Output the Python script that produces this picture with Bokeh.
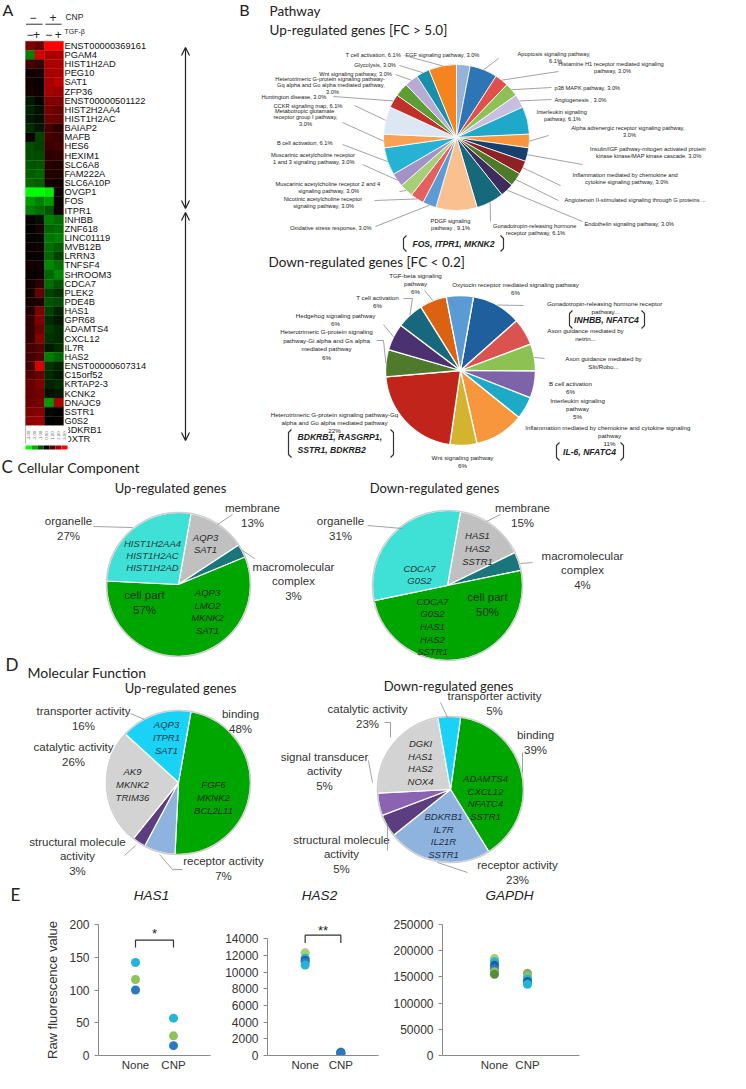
import math
from bokeh.plotting import figure
from bokeh.models import Range1d, FactorRange, FixedTicker, Arrow, OpenHead, BasicTickFormatter
from bokeh.layouts import column, row
from bokeh.core.properties import value
from bokeh.embed import file_html
from bokeh.resources import INLINE

# ======================= DATA =======================
hm_genes = ["ENST00000369161", "PGAM4", "HIST1H2AD", "PEG10", "SAT1", "ZFP36", "ENST00000501122",
            "HIST2H2AA4", "HIST1H2AC", "BAIAP2", "MAFB", "HES6", "HEXIM1", "SLC6A8", "FAM222A", "SLC6A10P",
            "OVGP1", "FOS", "ITPR1", "INHBB", "ZNF618", "LINC01119", "MVB12B", "LRRN3", "TNFSF4", "SHROOM3",
            "CDCA7", "PLEK2", "PDE4B", "HAS1", "GPR68", "ADAMTS4", "CXCL12", "IL7R", "HAS2", "ENST00000607314",
            "C15orf52", "KRTAP2-3", "KCNK2", "DNAJC9", "SSTR1", "G0S2", "BDKRB1", "OXTR"]
hm_ctrl = [1.5, -1.5, 0.8, 0.2, 0.2, 0.3, -0.3, -0.4, -0.3, -0.5, 0.1, -0.9, -0.9, -1.0, -1.1, -1.2, -3.0, -1.8, -1.5,
           0.1, 0.0, 0.1, 0.1, 0.1, 0.2, 0.1, 0.2, 0.2, 0.3, 0.4, 0.6, 0.6, 0.6, 0.8, 0.8, 0.8, 1.0, 1.2, 1.2, 1.3, 1.5, 1.7, 1.8, 2.0]
hm_tgf = [1.2, 2.5, 0.6, 0.3, 0.1, 0.2, 0.1, -0.2, -0.2, -0.3, -0.8, -0.8, -0.9, -1.0, -1.2, -1.1, -3.0, -1.5, -1.3,
          -0.2, 0.3, -0.1, 0.2, 0.1, 0.2, 0.2, 0.5, 1.2, 0.4, 1.5, 1.5, 1.3, 1.6, 1.0, 1.0, 2.5, 1.2, 1.5, 1.3, 1.4, 1.6, 1.8, 2.0, 2.0]
hm_cnp = [3.0, 2.0, 2.0, 2.0, 2.0, 2.0, 1.5, 1.4, 1.3, 0.8, 0.8, 0.7, 0.5, 0.5, 0.4, 0.3, -2.8, -1.8, -1.0,
          -1.5, -1.2, -1.4, -1.3, -1.2, -1.6, -1.2, -1.3, -0.8, -1.0, -0.8, -0.5, -0.7, -0.6, -0.3, -1.5, -0.6, -0.5, -0.4, -0.2, -1.8, -0.1, 0.0, 0.0, 0.0]
hm_cnp_tgf = [3.0, 2.0, 2.0, 2.0, 2.2, 1.8, 1.5, 1.2, 1.2, 0.5, 0.7, 0.8, 0.6, 0.4, 0.4, 0.2, 0.2, 0.1, 0.2,
              -1.3, -1.3, -1.5, -1.1, -0.8, -1.3, -1.6, -1.0, -0.6, -0.9, -0.4, -0.3, -0.5, -0.5, -0.5, -1.2, -0.4, -0.3, -0.5, -0.3, 2.0, 0.0, 0.1, 0.0, 0.0]
hm_cnp_signs = ["\u2212", "+"]
hm_tgf_signs = ["\u2212", "+", "\u2212", "+"]
cb_values = [-3, -2, -1, 0, 1, 2, 3]

up_pw_names = ["FGF signaling pathway", "Apoptosis signaling pathway", "Histamine H1 receptor mediated signaling pathway",
               "p38 MAPK pathway", "Angiogenesis", "Interleukin signaling pathway", "Alpha adrenergic receptor signaling pathway",
               "Insulin/IGF pathway-mitogen activated protein kinase kinase/MAP kinase cascade",
               "Inflammation mediated by chemokine and cytokine signaling pathway",
               "Angiotensin II-stimulated signaling through G proteins", "Endothelin signaling pathway",
               "Gonadotropin-releasing hormone receptor pathway", "PDGF signaling pathway", "Oxidative stress response",
               "Nicotinic acetylcholine receptor signaling pathway", "Muscarinic acetylcholine receptor 2 and 4 signaling pathway",
               "Muscarinic acetylcholine receptor 1 and 3 signaling pathway", "B cell activation",
               "Metabotropic glutamate receptor group I pathway", "CCKR signaling map", "Huntington disease",
               "Heterotrimeric G-protein signaling pathway-Gq alpha and Go alpha mediated pathway",
               "Wnt signaling pathway", "Glycolysis", "T cell activation"]
up_pw_pct = [3.0, 6.1, 3.0, 3.0, 3.0, 6.1, 3.0, 3.0, 3.0, 3.0, 3.0, 6.1, 9.1, 3.0, 3.0, 3.0, 3.0, 6.1, 3.0, 6.1, 3.0, 3.0, 3.0, 3.0, 6.1]

down_pw_names = ["Gonadotropin-releasing hormone receptor pathway", "Axon guidance mediated by netrin",
                 "Axon guidance mediated by Slit/Robo", "B cell activation", "Interleukin signaling pathway",
                 "Inflammation mediated by chemokine and cytokine signaling pathway", "Wnt signaling pathway",
                 "Heterotrimeric G-protein signaling pathway-Gq alpha and Go alpha mediated pathway",
                 "Heterotrimeric G-protein signaling pathway-Gi alpha and Gs alpha mediated pathway",
                 "Hedgehog signaling pathway", "T cell activation", "TGF-beta signaling pathway",
                 "Oxytocin receptor mediated signaling pathway"]
down_pw_pct = [11, 6, 6, 6, 5, 11, 6, 22, 6, 6, 6, 6, 6]

cc_names = ["membrane", "macromolecular complex", "cell part", "organelle"]
cc_up_pct = [13, 3, 57, 27]
cc_down_pct = [15, 4, 50, 31]

mf_up_names = ["binding", "receptor activity", "structural molecule activity", "catalytic activity", "transporter activity"]
mf_up_pct = [48, 7, 3, 26, 16]
mf_down_names = ["binding", "receptor activity", "structural molecule activity", "signal transducer activity",
                 "catalytic activity", "transporter activity"]
mf_down_pct = [39, 23, 5, 5, 23, 5]

e_groups = ["None", "CNP"]
has1_none = [142, 116, 100]
has1_cnp = [57, 30, 15]
has2_none = [12300, 11650, 11400, 11200, 10850]
has2_cnp = [420, 380, 330, 290, 250]
gapdh_none = [185000, 179000, 172000, 166000, 160000, 155000]
gapdh_cnp = [157000, 151000, 146000, 141000, 136000]

# ======================= STYLE =======================
up_colors = ["#95B3D7", "#2E75B6", "#E0504A", "#8DC153", "#C9BEDF", "#1FA8C9", "#F7963C", "#17406D", "#8E2222",
             "#4D7A29", "#3E2C5E", "#16697A", "#FBC08F", "#5E9BD6", "#E4605E", "#A6CF78", "#A491C8", "#26B3D3",
             "#F9A055", "#DDE7F3", "#C0312B", "#5E9C34", "#B9A9D5", "#1A8FAB", "#F5841F"]
down_colors = ["#1F5F9E", "#DA5350", "#8DC153", "#7F63A8", "#1CAAC6", "#F7963C", "#D4B330", "#C0241A",
               "#4F7A2C", "#4B316F", "#17687C", "#DB6210", "#5B9BD5"]
cc_colors = ["#C0C0C0", "#1B767C", "#00A600", "#3FE0D6"]
mf_up_colors = ["#00A600", "#8DB3DE", "#5C3E80", "#D3D3D3", "#1AD2F6"]
mf_down_colors = ["#00A600", "#8DB3DE", "#5C3E80", "#8A63B3", "#D3D3D3", "#1AD2F6"]
C_CYAN, C_GREEN, C_BLUE, C_DBLUE, C_LGREEN, C_DGREEN, C_GRAYG = "#22B5D8", "#8DC35A", "#2B78C2", "#1F5C99", "#A6CF6E", "#5A8A3A", "#8FA37A"

SANS = value("Liberation Sans")
LATO = value("Lato")

hm_pal = []
for i in range(256):
    t = i / 255.0 * 2 - 1
    if t < 0:
        hm_pal.append("#%02x%02x%02x" % (0, int(round(-t * 255)), 0))
    else:
        hm_pal.append("#%02x%02x%02x" % (int(round(t * 255)), 0, 0))


def hm_color(v):
    return hm_pal[int(round((min(max(v, -3), 3) + 3) / 6.0 * 255))]


# ======================= MAIN CANVAS (panels A-D) =======================
W = 730
H_MAIN = 906
p = figure(width=W, height=H_MAIN, x_range=Range1d(8, 8 + W), y_range=Range1d(-(8 + H_MAIN), -8),
           x_axis_location=None, y_axis_location=None, min_border=0, toolbar_location=None,
           output_backend="svg", outline_line_color=None)
p.xgrid.visible = False
p.ygrid.visible = False


def T(x, y, s, size, align="center", font=SANS, style="normal", color="#222222", lh=1.2, angle=0.0, baseline="middle"):
    p.text(x=[x], y=[-y], text=[s], text_font=font, text_font_size="%.1fpx" % size, text_align=align,
           text_baseline=baseline, text_font_style=style, text_color=color, text_line_height=lh, angle=angle)


def pie(cx, cy, r, pcts, colors, start=0.0, lc="white", lw=1.0):
    tot = float(sum(pcts))
    acc = 0.0
    s, e, mids = [], [], []
    for v in pcts:
        a0 = start + acc / tot * 360.0
        acc += v
        a1 = start + acc / tot * 360.0
        s.append(math.radians(90 - a0))
        e.append(math.radians(90 - a1))
        mids.append((a0 + a1) / 2.0)
    n = len(pcts)
    p.wedge(x=[cx] * n, y=[-cy] * n, radius=r, start_angle=s, end_angle=e, direction="clock",
            fill_color=colors, line_color=lc, line_width=lw)
    return mids


def edge(cx, cy, r, deg):
    a = math.radians(deg)
    return (cx + r * math.sin(a), cy - r * math.cos(a))


leaders = []


def lead(pts):
    leaders.append(pts)


def bracket(x0, x1, y0, y1, lw=1.2):
    d = 3
    xs = [[x0 + d, x0, x0, x0 + d], [x1 - d, x1, x1, x1 - d]]
    ys = [[-y0, -(y0 + d), -(y1 - d), -y1], [-y0, -(y0 + d), -(y1 - d), -y1]]
    p.multi_line(xs=xs, ys=ys, line_color="#333333", line_width=lw)


# ---------- Panel A: heatmap ----------
HM_LEFT, HM_COLW, HM_ROW0, HM_ROWH = 33.0, 9.5, 53.3, 9.15
sx = -0.5 - (HM_LEFT - 8) / HM_COLW
p.extra_x_ranges = {"hmx": Range1d(start=sx, end=sx + W / HM_COLW)}
top_r = (8 - HM_ROW0) / HM_ROWH
p.extra_y_ranges = {"hmy": Range1d(start=top_r + H_MAIN / HM_ROWH, end=top_r)}

hm_cols = [hm_ctrl, hm_tgf, hm_cnp, hm_cnp_tgf]
hx, hy, hc = [], [], []
for c, col in enumerate(hm_cols):
    for r_, v in enumerate(col):
        hx.append(c)
        hy.append(r_)
        hc.append(hm_color(v))
p.rect(x=hx, y=hy, width=1, height=1, x_range_name="hmx", y_range_name="hmy", fill_color=hc, line_color=hc, line_width=0.3)
p.text(x=[3.6] * len(hm_genes), y=list(range(len(hm_genes))), text=hm_genes, x_range_name="hmx", y_range_name="hmy",
       text_font=SANS, text_font_size="9.3px", text_align="left", text_baseline="middle", text_color="#111111")
p.text(x=[0.3, 2.4], y=[-3.1, -3.1], text=hm_cnp_signs, x_range_name="hmx", y_range_name="hmy",
       text_font=SANS, text_font_size="12px", text_align="center", text_baseline="middle", text_color="#222222")
p.multi_line(xs=[[-0.45, 1.3], [1.6, 3.3]], ys=[[-2.36, -2.36], [-2.36, -2.36]], x_range_name="hmx", y_range_name="hmy",
             line_color="#333333", line_width=1)
p.text(x=[3.7], y=[-3.1], text=["CNP"], x_range_name="hmx", y_range_name="hmy",
       text_font=SANS, text_font_size="8.5px", text_align="left", text_baseline="middle", text_color="#222222")
p.text(x=[0.0, 0.65, 1.95, 2.95], y=[-1.25] * 4, text=hm_tgf_signs, x_range_name="hmx", y_range_name="hmy",
       text_font=SANS, text_font_size="12px", text_align="center", text_baseline="middle", text_color="#222222")
p.text(x=[3.6], y=[-1.6], text=["TGF-\u03b2"], x_range_name="hmx", y_range_name="hmy",
       text_font=SANS, text_font_size="7px", text_align="left", text_baseline="middle", text_color="#222222")
p.rect(x=[1.75], y=[42.55], width=4.5, height=2.1, x_range_name="hmx", y_range_name="hmy",
       fill_color="white", line_color=None)
cb_w = 6.0 / HM_COLW
cb_x = [-0.5 + (i + 0.5) * cb_w for i in range(len(cb_values))]
p.text(x=cb_x, y=[42.6] * len(cb_values), text=["%.2f" % v for v in cb_values], x_range_name="hmx", y_range_name="hmy",
       text_font=SANS, text_font_size="4.2px", text_align="center", text_baseline="middle", text_color="#666666",
       angle=math.pi / 2)
p.rect(x=cb_x, y=[43.9] * len(cb_values), width=cb_w, height=0.45, x_range_name="hmx", y_range_name="hmy",
       fill_color=[hm_color(v) for v in cb_values], line_color=None)

for y0, y1 in [(55, 216), (220, 448)]:
    p.add_layout(Arrow(start=OpenHead(size=8, line_width=1.2, line_color="#222222"),
                       end=OpenHead(size=8, line_width=1.2, line_color="#222222"),
                       x_start=193, y_start=-y0, x_end=193, y_end=-y1, line_width=1.2, line_color="#222222"))

# ---------- panel letters and headings ----------
T(10, 17, "A", 16, align="left", font=LATO)
T(252, 17, "B", 16, font=LATO)
T(277, 18, "Pathway", 13.5, align="left", font=LATO)
T(277, 37, "Up-regulated genes [FC > 5.0]", 13.5, align="left", font=LATO)
T(276, 269, "Down-regulated genes [FC < 0.2]", 13.5, align="left", font=LATO)
T(9, 474, "C", 17, align="left", font=LATO)
T(25, 475, "Cellular Component", 14, align="left", font=LATO)
T(178, 495, "Up-regulated genes", 13, font=LATO)
T(442, 495, "Down-regulated genes", 13, font=LATO)
T(13, 672, "D", 17, align="left", font=LATO)
T(35, 680, "Molecular Function", 14, align="left", font=LATO)
T(188, 695, "Up-regulated genes", 13, font=LATO)
T(456, 693, "Down-regulated genes", 13, font=LATO)
T(18, 902, "E", 17, align="left", font=LATO)
T(159, 903, "HAS1", 13.5, style="italic")
T(327, 903, "HAS2", 13.5, style="italic")
T(517, 903, "GAPDH", 13.5, style="italic")

# ---------- Panel B: up-regulated pathway pie ----------
UCX, UCY, UR = 464, 145, 73
up_mid = pie(UCX, UCY, UR, up_pw_pct, up_colors, start=0.0, lw=0.8)
up_lbl = [
    ("FGF signaling  pathway, {p}%", 413, 62, "left", None),
    ("Apoptosis  signaling  pathway,\n{p}%", 563, 65, "center", (506, 66)),
    ("Histamine  H1 receptor mediated  signaling\npathway, {p}%", 620, 75, "center", (566, 79)),
    ("p38 MAPK  pathway, {p}%", 562, 95, "left", (559, 95)),
    ("Angiogenesis  , {p}%", 562, 107, "left", (559, 107)),
    ("Interleukin  signaling\npathway, {p}%", 570, 123, "center", None),
    ("Alpha adrenergic  receptor signaling  pathway,\n{p}%", 637, 139, "center", (556, 143)),
    ("Insulin/IGF  pathway-mitogen  activated protein\nkinase kinase/MAP  kinase cascade, {p}%", 657, 160, "center", (590, 172)),
    ("Inflammation  mediated  by chemokine  and\ncytokine signaling  pathway, {p}%", 635, 186, "center", (568, 193)),
    ("Angiotensin  II-stimulated  signaling  through  G proteins ...", 572, 207, "left", (566, 208)),
    ("Endothelin  signaling  pathway, {p}%", 592, 231, "left", (590, 229)),
    ("Gonadotropin-releasing  hormone\nreceptor pathway, {p}%", 543, 237, "center", (498, 229)),
    ("PDGF signaling\npathway , {p}%", 458, 232, "center", None),
    ("Oxidative stress response, {p}%", 379, 235, "right", (383, 234)),
    ("Nicotinic  acetylcholine  receptor\nsignaling  pathway, {p}%", 332, 210, "center", (382, 208)),
    ("Muscarinic  acetylcholine  receptor 2 and 4\nsignaling  pathway, {p}%", 337, 195, "center", (407, 199)),
    ("Muscarinic  acetylcholine  receptor\n1 and 3 signaling  pathway, {p}%", 322, 166, "center", (370, 172)),
    ("B cell activation,  {p}%", 313, 150, "center", (350, 152)),
    ("Metabotropic  glutamate\nreceptor group I pathway,\n{p}%", 313, 125, "center", (350, 130)),
    ("CCKR signaling  map,  {p}%", 317, 113, "center", (362, 113)),
    ("Huntington  disease, {p}%", 269, 104, "left", (341, 104)),
    ("Heterotrimeric  G-protein  signaling  pathway-\nGq alpha and Go alpha  mediated  pathway,\n{p}%", 340, 93, "center", None),
    ("Wnt signaling  pathway, {p}%", 401, 81, "right", (403, 82)),
    ("Glycolysis,  {p}%", 405, 72, "right", (407, 73)),
    ("T cell activation,  {p}%", 410, 62, "right", (412, 63)),
]
for i, (tpl, lx, ly, al, le) in enumerate(up_lbl):
    T(lx, ly, tpl.replace("{p}", "%.1f" % up_pw_pct[i]), 5.7, align=al, color="#1a1a1a", lh=1.15)
    if le is not None:
        ex, ey = edge(UCX, UCY, UR, up_mid[i])
        lead([(ex, ey), le])
bracket(411, 511, 243, 259)
T(461, 251, "FOS, ITPR1, MKNK2", 8.6, style="bold italic", color="#222222")

# ---------- Panel B: down-regulated pathway pie ----------
DCX, DCY, DR = 468, 378, 75
dn_mid = pie(DCX, DCY, DR, down_pw_pct, down_colors, start=10.0, lw=1.3)
dn_lbl = [
    ("Gonadotropin-releasing  hormone receptor\npathway...", 613, 315, "center", [(531, 313)]),
    ("Axon guidance mediated by\nnetrin...", 593, 342, "center", None),
    ("Axon guidance mediated by\nSlit/Robo...", 611, 370, "center", [(552, 366)]),
    ("B cell activation\n{p}%", 578, 395, "center", None),
    ("Interleukin signaling\npathway\n{p}%", 585, 416, "center", None),
    ("Inflammation  mediated by chemokine  and cytokine signaling\npathway\n{p}%", 617, 443, "center", None),
    ("Wnt signaling pathway\n{p}%", 470, 469, "center", None),
    ("Heterotrimeric G-protein signaling pathway-Gq\nalpha and Go alpha mediated pathway\n{p}%", 342, 430, "center", None),
    ("Heterotrimeric G-protein signaling\npathway-Gi alpha and Gs alpha\nmediated pathway\n{p}%", 334, 352, "center", [(391, 348), (384, 348)]),
    ("Hedgehog signaling pathway\n{p}%", 343, 327, "center", [(391, 332)]),
    ("T cell activation\n{p}%", 385, 309, "center", [(420, 306), (411, 306)]),
    ("TGF-beta signaling\npathway\n{p}%", 423, 291, "center", [(432, 298)]),
    ("Oxytocin receptor mediated signaling pathway\n{p}%", 523, 296, "center", None),
]
for i, (tpl, lx, ly, al, le) in enumerate(dn_lbl):
    T(lx, ly, tpl.replace("{p}", "%d" % down_pw_pct[i]), 6.2, align=al, color="#1a1a1a", lh=1.2)
    if le is not None:
        ex, ey = edge(DCX, DCY, DR, dn_mid[i])
        lead([(ex, ey)] + le)
bracket(577, 652, 318, 336)
T(614, 327, "INHBB, NFATC4", 8.6, style="bold italic")
bracket(564, 631, 450, 468)
T(597, 459, "IL-6, NFATC4", 8.6, style="bold italic")
bracket(296, 401, 437, 465)
T(305, 451, "BDKRB1, RASGRP1,\nSSTR1, BDKRB2", 8.6, align="left", style="bold italic", lh=1.25)

# ---------- Panel C ----------
LBL = 11.5
GEN = 9.5
pie(186, 592, 72, cc_up_pct, cc_colors, start=10.0, lw=1.2)
p.circle(x=[186], y=[-592], radius=72, fill_color=None, line_color="#cfcfcf", line_width=1.6)
T(76, 536, "organelle\n%d%%" % cc_up_pct[3], LBL, color="#333333")
T(260, 523, "membrane\n%d%%" % cc_up_pct[0], LBL, color="#333333")
T(301, 589, "macromolecular\ncomplex\n%d%%" % cc_up_pct[1], LBL, color="#333333")
T(152, 610, "cell part\n%d%%" % cc_up_pct[2], LBL, color="#1d2e1d")
T(160, 563, "HIST1H2AA4\nHIST1H2AC\nHIST1H2AD", GEN, style="italic", color="#1f3a3a", lh=1.1)
T(213, 551, "AQP3\nSAT1", GEN, style="italic", color="#2a2a2a", lh=1.15)
T(215, 619, "AQP3\nLMO2\nMKNK2\nSAT1", GEN, style="italic", color="#1a2a1a", lh=1.15)
lead([(101, 534), (140, 535)])
lead([(240, 522), (225, 532)])
lead([(250, 558), (262, 566)])

pie(455, 593, 75, cc_down_pct, cc_colors, start=10.0, lw=1.2)
p.circle(x=[455], y=[-593], radius=75, fill_color=None, line_color="#cfcfcf", line_width=1.6)
T(348, 536, "organelle\n%d%%" % cc_down_pct[3], LBL, color="#333333")
T(530, 523, "membrane\n%d%%" % cc_down_pct[0], LBL, color="#333333")
T(590, 578, "macromolecular\ncomplex\n%d%%" % cc_down_pct[1], LBL, color="#333333")
T(495, 612, "cell part\n%d%%" % cc_down_pct[2], LBL, color="#1d2e1d")
T(485, 556, "HAS1\nHAS2\nSSTR1", GEN, style="italic", color="#2a2a2a", lh=1.15)
T(427, 582, "CDCA7\nG0S2", GEN, style="italic", color="#1f3a3a", lh=1.15)
T(440, 634, "CDCA7\nG0S2\nHAS1\nHAS2\nSSTR1", GEN, style="italic", color="#1a2a1a", lh=1.15)
lead([(375, 533), (410, 536)])
lead([(508, 522), (494, 529)])
lead([(528, 571), (540, 570)])

# ---------- Panel D ----------
pie(186, 790, 72, mf_up_pct, mf_up_colors, start=10.0, lw=1.2)
p.circle(x=[186], y=[-790], radius=72, fill_color=None, line_color="#cfcfcf", line_width=1.6)
T(91, 726, "transporter activity\n%d%%" % mf_up_pct[4], LBL, color="#333333")
T(248, 729, "binding\n%d%%" % mf_up_pct[0], LBL, color="#333333")
T(81, 762, "catalytic activity\n%d%%" % mf_up_pct[3], LBL, color="#333333")
T(85, 864, "structural molecule\nactivity\n%d%%" % mf_up_pct[2], LBL, color="#333333")
T(231, 876, "receptor activity\n%d%%" % mf_up_pct[1], LBL, color="#333333")
T(174, 745, "AQP3\nITPR1\nSAT1", GEN, style="italic", color="#1f3a4a", lh=1.15)
T(140, 792, "AK9\nMKNK2\nTRIM36", GEN, style="italic", color="#2a2a2a", lh=1.15)
T(221, 805, "FGF6\nMKNK2\nBCL2L11", GEN, style="italic", color="#1a2a1a", lh=1.15)
lead([(138, 721), (152, 727)])
lead([(132, 863), (143, 853)])
lead([(167, 862), (180, 877), (190, 877)])

pie(458, 797, 73, mf_down_pct, mf_down_colors, start=8.0, lw=1.2)
p.circle(x=[458], y=[-797], radius=73, fill_color=None, line_color="#cfcfcf", line_width=1.6)
T(502, 711, "transporter activity\n%d%%" % mf_down_pct[5], LBL, color="#333333")
T(375, 724, "catalytic activity\n%d%%" % mf_down_pct[4], LBL, color="#333333")
T(543, 750, "binding\n%d%%" % mf_down_pct[0], LBL, color="#333333")
T(332, 779, "signal transducer\nactivity\n%d%%" % mf_down_pct[3], LBL, color="#333333")
T(349, 862, "structural molecule\nactivity\n%d%%" % mf_down_pct[2], LBL, color="#333333")
T(525, 880, "receptor activity\n%d%%" % mf_down_pct[1], LBL, color="#333333")
T(428, 770, "DGKI\nHAS1\nHAS2\nNOX4", GEN, style="italic", color="#2a2a2a", lh=1.15)
T(493, 805, "ADAMTS4\nCXCL12\nNFATC4\nSSTR1", GEN, style="italic", color="#1a2a1a", lh=1.15)
T(451, 843, "BDKRB1\nIL7R\nIL21R\nSSTR1", GEN, style="italic", color="#1f2f4a", lh=1.15)
lead([(448, 710), (455, 725)])
lead([(392, 730), (398, 730), (398, 745)])
lead([(376, 768), (380, 790)])
lead([(395, 832), (395, 858)])
lead([(530, 760), (530, 780)])
lead([(445, 870), (475, 880)])

p.multi_line(xs=[[q[0] for q in l] for l in leaders], ys=[[-q[1] for q in l] for l in leaders],
             line_color="#8c8c8c", line_width=0.8)

# ======================= PANEL E =======================
E_H = 167


def efig(width, mbl, mbr, mbt, pad, yend, ticks, bounds, none_vals, cnp_vals, none_cols, cnp_cols, ylabel=None):
    f = figure(width=width, height=E_H, x_range=FactorRange(factors=e_groups, range_padding=pad, range_padding_units="absolute"),
               y_range=Range1d(0, yend), min_border_left=mbl, min_border_right=mbr, min_border_top=mbt,
               min_border_bottom=17, toolbar_location=None, output_backend="svg", outline_line_color=None)
    f.xgrid.visible = False
    f.ygrid.visible = False
    ya = f.yaxis[0]
    ya.ticker = FixedTicker(ticks=ticks)
    ya.bounds = bounds
    ya.formatter = BasicTickFormatter(use_scientific=False)
    ya.major_tick_out = 4
    ya.major_tick_in = 0
    ya.minor_tick_line_color = None
    ya.axis_line_color = "#8a8a8a"
    ya.major_tick_line_color = "#8a8a8a"
    ya.major_label_text_font = "Liberation Sans"
    ya.major_label_text_font_size = "12px"
    ya.major_label_text_color = "#333333"
    ya.major_label_standoff = 5
    if ylabel:
        ya.axis_label = ylabel
        ya.axis_label_text_font = "Liberation Sans"
        ya.axis_label_text_font_size = "13px"
        ya.axis_label_text_font_style = "normal"
        ya.axis_label_text_color = "#333333"
        ya.axis_label_standoff = 6
    xa = f.xaxis[0]
    xa.major_tick_line_color = None
    xa.minor_tick_line_color = None
    xa.major_tick_out = 0
    xa.axis_line_color = "#8a8a8a"
    xa.major_label_text_font = "Liberation Sans"
    xa.major_label_text_font_size = "11.5px"
    xa.major_label_text_color = "#333333"
    xa.major_label_standoff = 3
    f.scatter(x=[e_groups[0]] * len(none_vals), y=none_vals, size=9, fill_color=none_cols, line_color=None)
    f.scatter(x=[e_groups[1]] * len(cnp_vals), y=cnp_vals, size=9, fill_color=cnp_cols, line_color=None)
    return f


e1 = efig(222, 98, 12, 18, 0.474, 200, [0, 50, 100, 150, 200], (0, 200), has1_none, has1_cnp,
          [C_CYAN, C_GREEN, C_BLUE], [C_CYAN, C_GREEN, C_BLUE], ylabel="Raw fluorescence value")
e1.line(x=[e_groups[0], e_groups[0], e_groups[1], e_groups[1]], y=[165, 176, 176, 165], line_color="#333333", line_width=1.2)
e1.text(x=[1.0], y=[186], text=["*"], text_font=SANS, text_font_size="13px", text_align="center", text_baseline="middle", text_color="#222222")

e2 = efig(162, 44, 6, 1, 0.556, 15700, list(range(0, 14001, 2000)), (0, 14000), has2_none, has2_cnp,
          [C_LGREEN, C_CYAN, C_DBLUE, C_BLUE, C_CYAN], [C_GREEN, C_CYAN, C_BLUE, C_DBLUE, C_BLUE])
e2.line(x=[e_groups[0], e_groups[0], e_groups[1], e_groups[1]], y=[13474, 14421, 14421, 13474], line_color="#333333", line_width=1.2)
e2.text(x=[1.0], y=[14947], text=["**"], text_font=SANS, text_font_size="13px", text_align="center", text_baseline="middle", text_color="#222222")

e3 = efig(346, 58, 151, 14, 1.076, 250000, list(range(0, 250001, 50000)), (0, 250000), gapdh_none, gapdh_cnp,
          [C_LGREEN, C_CYAN, C_DBLUE, C_BLUE, C_GREEN, C_DGREEN], [C_GRAYG, C_GREEN, C_CYAN, C_DBLUE, C_CYAN])

layout = column(p, row(e1, e2, e3))
open("out.html", "w").write(file_html(layout, INLINE))
